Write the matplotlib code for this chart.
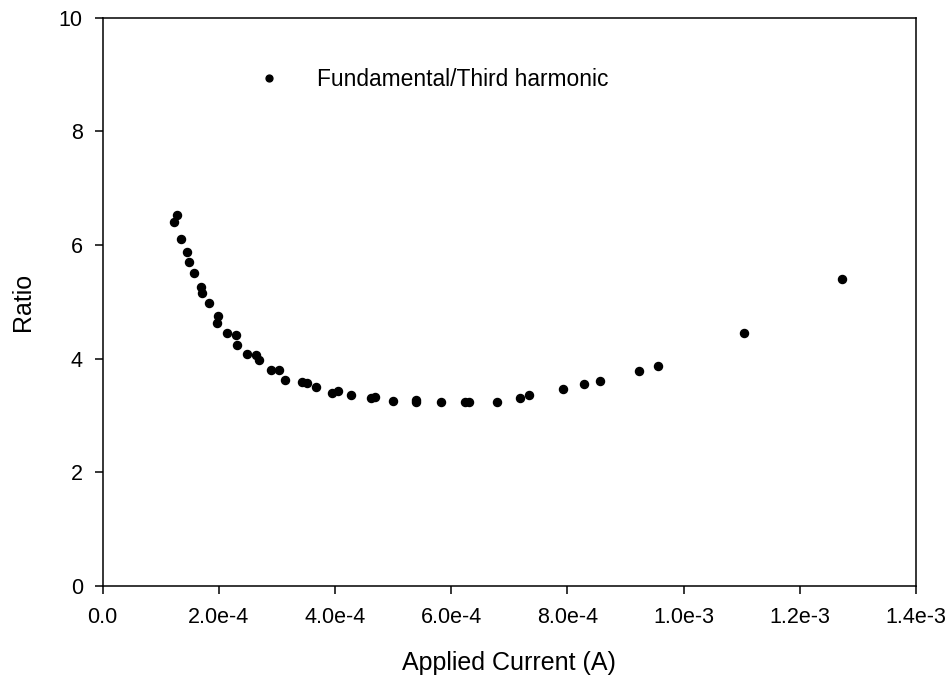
import matplotlib
matplotlib.use("Agg")
import matplotlib.pyplot as plt

plt.rcParams['font.family'] = ['Liberation Sans', 'DejaVu Sans']

# Applied current (A) and the fundamental / third-harmonic ratio
current = [
    1.284e-4, 1.232e-4, 1.343e-4, 1.446e-4, 1.485e-4, 1.566e-4, 1.692e-4, 1.709e-4,
    1.830e-4, 1.979e-4, 1.973e-4, 2.134e-4, 2.289e-4, 2.306e-4, 2.489e-4, 2.639e-4,
    2.690e-4, 2.897e-4, 3.040e-4, 3.143e-4, 3.425e-4, 3.511e-4, 3.666e-4, 3.952e-4,
    4.055e-4, 4.274e-4, 4.613e-4, 4.682e-4, 4.991e-4, 5.393e-4, 5.393e-4, 5.823e-4,
    6.231e-4, 6.300e-4, 6.792e-4, 7.183e-4, 7.332e-4, 7.918e-4, 8.289e-4, 8.560e-4,
    9.236e-4, 9.563e-4, 1.1038e-3, 1.2730e-3,
]
ratio = [
    6.53, 6.41, 6.10, 5.87, 5.71, 5.50, 5.27, 5.16,
    4.98, 4.76, 4.63, 4.46, 4.41, 4.25, 4.08, 4.06,
    3.97, 3.80, 3.80, 3.62, 3.59, 3.57, 3.50, 3.40,
    3.43, 3.36, 3.31, 3.33, 3.25, 3.27, 3.23, 3.23,
    3.23, 3.24, 3.24, 3.31, 3.36, 3.47, 3.55, 3.61,
    3.78, 3.87, 4.45, 5.41,
]

x_ticks = [0.0, 2.0e-4, 4.0e-4, 6.0e-4, 8.0e-4, 1.0e-3, 1.2e-3, 1.4e-3]
x_tick_labels = ["0.0", "2.0e-4", "4.0e-4", "6.0e-4", "8.0e-4", "1.0e-3", "1.2e-3", "1.4e-3"]
y_ticks = [0, 2, 4, 6, 8, 10]
y_tick_labels = ["0", "2", "4", "6", "8", "10"]

fig = plt.figure(figsize=(9.5, 6.83), dpi=100)
ax = fig.add_axes([0.1081, 0.142, 0.8561, 0.832])

ax.plot(current, ratio, linestyle='none', marker='o', color='black',
        markersize=5.8, label='Fundamental/Third harmonic')

ax.set_xlim(0, 1.4e-3)
ax.set_ylim(0, 10)
ax.set_xticks(x_ticks)
ax.set_xticklabels(x_tick_labels)
ax.set_yticks(y_ticks)
ax.set_yticklabels(y_tick_labels)

for s in ax.spines.values():
    s.set_linewidth(1.1)
ax.tick_params(direction='out', length=5.8, width=1.1, labelsize=15.5, colors='black')
ax.tick_params(axis='x', pad=9)
ax.tick_params(axis='y', pad=8.5)

ax.set_xlabel('Applied Current (A)', fontsize=18, labelpad=17)
ax.set_ylabel('Ratio', fontsize=18, labelpad=17)

leg = ax.legend(loc='center left', bbox_to_anchor=(0.165, 0.891), frameon=False,
                fontsize=16.4, handlelength=1.0, handletextpad=1.63, markerscale=0.85)

fig.savefig('out.png', dpi=100)
